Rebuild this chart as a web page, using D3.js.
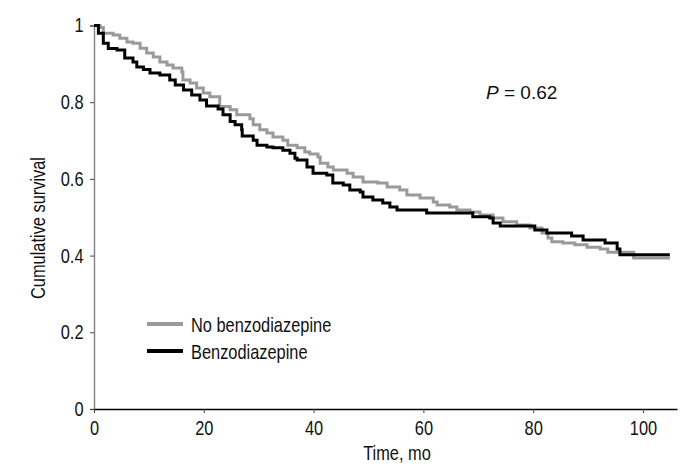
<!DOCTYPE html>
<html>
<head>
<meta charset="utf-8">
<script src="https://cdn.jsdelivr.net/npm/d3@7"></script>
<style>
  html, body { margin: 0; padding: 0; background: #fff; }
  svg { display: block; }
  .lbl { font-family: "Liberation Sans", Arial, sans-serif; font-size: 20px; fill: #111; }
</style>
</head>
<body>
<svg id="chart" width="700" height="476"></svg>
<script>
// Time (months) at which each step begins, and survival after the step
const noBenzoTimes = [0, 1.1, 1.7, 3.5, 4.7, 6, 7.1, 8.4, 9.6, 10.8, 12, 13.3, 14.4, 16, 16.2, 17.5, 18.7, 19.9, 21.1, 22.9, 24.8, 26, 28.4, 29, 30.2, 31.5, 32.6, 34.4, 35.3, 37, 38.4, 39.3, 40.8, 41.2, 42.6, 43.6, 46.1, 47.2, 49, 51.7, 53.4, 55.7, 57, 59.4, 61.8, 62.5, 64.8, 66.1, 68.5, 70.3, 72.7, 74.5, 77, 79.4, 81.6, 82.7, 83.4, 85.4, 87.6, 89.8, 92.2, 93.6, 98.3, 104.9];
const noBenzoSurv  = [1.0, 0.995, 0.98, 0.975, 0.967, 0.957, 0.954, 0.941, 0.928, 0.918, 0.905, 0.897, 0.889, 0.879, 0.858, 0.85, 0.837, 0.824, 0.814, 0.789, 0.78, 0.767, 0.757, 0.741, 0.728, 0.72, 0.709, 0.701, 0.688, 0.681, 0.67, 0.665, 0.657, 0.641, 0.631, 0.623, 0.615, 0.605, 0.592, 0.589, 0.579, 0.571, 0.558, 0.55, 0.54, 0.532, 0.527, 0.519, 0.514, 0.506, 0.498, 0.488, 0.48, 0.472, 0.459, 0.446, 0.436, 0.433, 0.428, 0.422, 0.417, 0.409, 0.394, 0.394];

const benzoTimes = [0, 0.8, 1.7, 2.6, 4.2, 5.6, 7.1, 7.8, 9, 10.2, 12, 13.8, 14.8, 16.3, 17.8, 19.3, 20.5, 22.6, 23.5, 24.8, 25.7, 26.9, 27, 29, 29.7, 31.5, 32.6, 34.4, 35.7, 36.6, 37, 38.8, 39.9, 42.4, 43.5, 45.4, 46.6, 48.5, 49, 50.8, 52.6, 53.9, 55.2, 60.6, 69, 72.1, 72.7, 74, 80.3, 82.5, 87, 89.1, 93.1, 95.3, 95.8, 104.9];
const benzoSurv  = [1.0, 0.98, 0.954, 0.94, 0.936, 0.915, 0.905, 0.892, 0.885, 0.876, 0.871, 0.858, 0.845, 0.832, 0.819, 0.806, 0.79, 0.782, 0.767, 0.75, 0.741, 0.728, 0.712, 0.701, 0.688, 0.683, 0.681, 0.675, 0.667, 0.654, 0.649, 0.631, 0.615, 0.61, 0.589, 0.584, 0.571, 0.566, 0.553, 0.545, 0.537, 0.527, 0.519, 0.511, 0.501, 0.498, 0.485, 0.477, 0.467, 0.459, 0.451, 0.441, 0.433, 0.417, 0.402, 0.402];

const xTicks = [0, 20, 40, 60, 80, 100];
const yTicks = [0, 0.2, 0.4, 0.6, 0.8, 1];
const yTickLabels = ["0", "0.2", "0.4", "0.6", "0.8", "1"];
const seriesNames = ["No benzodiazepine", "Benzodiazepine"];
const seriesColors = ["#9a9a9a", "#000000"];
const pText = "0.62";

const NARROW = 0.82; // horizontal compression to mimic a narrow sans font

const svg = d3.select("#chart");
const x = d3.scaleLinear().domain([0, 106.2]).range([94, 677]);
const y = d3.scaleLinear().domain([0, 1]).range([409, 25.5]);

// Y axis (gray line)
const yAxis = svg.append("g").attr("transform", `translate(${x(0)},0)`)
  .call(d3.axisLeft(y).tickValues(yTicks).tickFormat((d, i) => yTickLabels[i]).tickSize(4).tickPadding(6));
yAxis.select(".domain").attr("stroke", "#888").attr("stroke-width", 1.5);
yAxis.selectAll(".tick line").attr("stroke", "#444");
yAxis.selectAll(".tick text").attr("class", "lbl").attr("font-size", null).attr("font-family", null)
  .attr("fill", "#111").attr("x", -10.5 / NARROW).attr("transform", `scale(${NARROW},1)`);

// X axis (black line)
const xAxis = svg.append("g").attr("transform", `translate(0,${y(0)})`)
  .call(d3.axisBottom(x).tickValues(xTicks).tickFormat(d3.format("d")).tickSize(4).tickPadding(3).tickSizeOuter(0));
xAxis.select(".domain").attr("stroke", "#000").attr("stroke-width", 1.5);
xAxis.selectAll(".tick line").attr("stroke", "#444");
xAxis.selectAll(".tick text").attr("class", "lbl").attr("font-size", null).attr("font-family", null)
  .attr("fill", "#111").attr("dy", "0.95em").attr("transform", `scale(${NARROW},1)`);

function narrowText(px, py, str, anchor, rot) {
  return svg.append("text").attr("class", "lbl")
    .attr("transform", `translate(${px},${py})` + (rot ? ` rotate(${rot})` : "") + ` scale(${NARROW},1)`)
    .attr("text-anchor", anchor).text(str);
}

// Axis titles
narrowText(397, 460, "Time, mo", "middle");
narrowText(45, 228, "Cumulative survival", "middle", -90);

// Curves
const line = d3.line().x(d => x(d[0])).y(d => y(d[1])).curve(d3.curveStepAfter);
const series = [
  d3.zip(noBenzoTimes, noBenzoSurv),
  d3.zip(benzoTimes, benzoSurv)
];
series.forEach((s, i) => {
  svg.append("path").datum(s).attr("d", line)
    .attr("fill", "none").attr("stroke", seriesColors[i]).attr("stroke-width", 3)
    .attr("stroke-linejoin", "miter").attr("stroke-linecap", "butt");
});

// Legend
const legY = [324, 351];
seriesNames.forEach((name, i) => {
  svg.append("line").attr("x1", 147).attr("x2", 183).attr("y1", legY[i]).attr("y2", legY[i])
    .attr("stroke", seriesColors[i]).attr("stroke-width", 4);
  narrowText(191, legY[i] + 8, name, "start");
});

// P value
const pt = svg.append("text").attr("x", 486).attr("y", 99)
  .attr("font-family", "'Liberation Sans', Arial, sans-serif").attr("font-size", 19).attr("fill", "#111");
pt.append("tspan").attr("font-style", "italic").text("P");
pt.append("tspan").text(" = " + pText);
</script>
</body>
</html>
